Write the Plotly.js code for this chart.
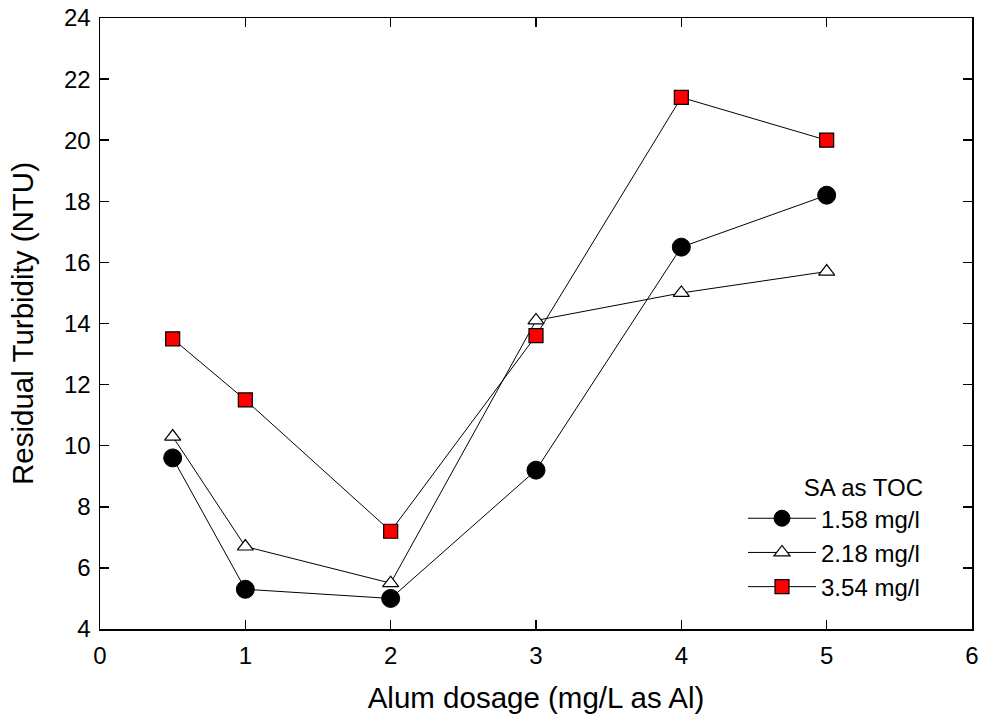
<!DOCTYPE html>
<html>
<head>
<meta charset="utf-8">
<script src="https://cdn.plot.ly/plotly-3.0.1.min.js"></script>
<style>html,body{margin:0;padding:0;background:#fff;}#chart{width:981px;height:725px;}</style>
</head>
<body>
<div id="chart"></div>
<script>
var dosage = [0.5, 1, 2, 3, 4, 5];
var seriesNames = ["1.58 mg/l", "2.18 mg/l", "3.54 mg/l"];
var turb158 = [9.6, 5.3, 5.0, 9.2, 16.5, 18.2];
var turb218 = [10.3, 6.7, 5.5, 14.1, 15.0, 15.7];
var turb354 = [13.5, 11.5, 7.2, 13.6, 21.4, 20.0];
var legendTitle = "SA as TOC";
var xTitle = "Alum dosage (mg/L as Al)";
var yTitle = "Residual Turbidity (NTU)";

var font = "Liberation Sans, Arial, sans-serif";
var traces = [
  {x: dosage, y: turb158, name: seriesNames[0], mode: "lines+markers", type: "scatter",
   line: {color: "#000", width: 1},
   marker: {symbol: "circle", size: 18, color: "#000", line: {color: "#000", width: 1}}},
  {x: dosage, y: turb218, name: seriesNames[1], mode: "lines+markers", type: "scatter",
   line: {color: "#000", width: 1},
   marker: {symbol: "triangle-up", size: 14, color: "#fff", line: {color: "#000", width: 1.2}}},
  {x: dosage, y: turb354, name: seriesNames[2], mode: "lines+markers", type: "scatter",
   line: {color: "#000", width: 1},
   marker: {symbol: "square", size: 14, color: "#ff0000", line: {color: "#000", width: 1.2}}}
];
var axisCommon = {
  showgrid: false, zeroline: false, showline: true, linecolor: "#000", linewidth: 1.5,
  mirror: "ticks", ticks: "inside", ticklen: 9, tickwidth: 1.5, tickcolor: "#000",
  tickfont: {family: font, size: 24, color: "#000"}
};
var layout = {
  width: 981, height: 725,
  margin: {l: 100, r: 9, t: 18, b: 96},
  paper_bgcolor: "#fff", plot_bgcolor: "#fff",
  font: {family: font, color: "#000"},
  showlegend: true,
  xaxis: Object.assign({}, axisCommon, {range: [0, 6], dtick: 1, tick0: 0, ticklabelstandoff: 5,
    title: {text: xTitle, font: {family: font, size: 29.5, color: "#000"}, standoff: 19}}),
  yaxis: Object.assign({}, axisCommon, {range: [4, 24], dtick: 2, tick0: 4, ticklabelstandoff: 3,
    title: {text: yTitle, font: {family: font, size: 29.5, color: "#000"}, standoff: 21}}),
  legend: {x: 0.7374, y: 0.2685, xanchor: "left", yanchor: "top",
    bgcolor: "rgba(0,0,0,0)", borderwidth: 0,
    font: {family: font, size: 24, color: "#000"},
    title: {text: legendTitle, side: "top right", font: {family: font, size: 24, color: "#000"}},
    itemwidth: 68, tracegroupgap: 0}
};
Plotly.newPlot("chart", traces, layout, {displayModeBar: false, staticPlot: true});
</script>
</body>
</html>
